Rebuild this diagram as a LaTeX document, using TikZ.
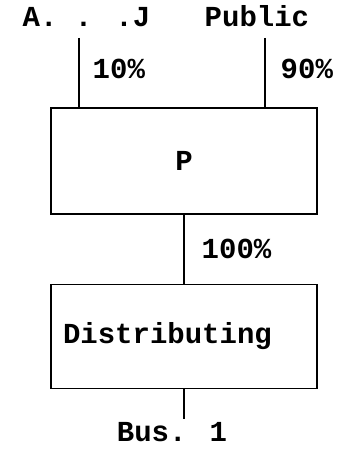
\documentclass[tikz,border=0pt]{standalone}
\usepackage{fontspec}
\setmainfont{Liberation Mono}
\definecolor{dgInk}{HTML}{000000}
\usetikzlibrary{positioning}

\begin{document}
\begin{tikzpicture}[line width=1.4pt,
                    font=\fontsize{29}{34}\selectfont\bfseries,
                    block/.style={draw=dgInk,inner sep=0pt,
                                  minimum width=266pt,minimum height=106pt},
                    tag/.style={inner sep=3pt,text=dgInk}]
  \useasboundingbox (0,0) rectangle (346pt,450pt);
  \node[block] (p) at (184pt,289pt) {P};
  \node[block,below=69pt of p,minimum height=104pt,
        text width=242pt,align=left] (dist) {Distributing};
  \node[tag,anchor=base west] (aj) at (19pt,423pt) {A. . .J};
  \node[tag,anchor=base west] (pub) at (201pt,423pt) {Public};
  \node[tag,below=30pt of dist,xshift=-12pt] (bus) {Bus. 1};
  % inlets on the top edge of P
  \coordinate (pin1) at ([xshift=-105pt]p.north);
  \coordinate (pin2) at ([xshift=81pt]p.north);
  \draw[dgInk,shorten <=7pt] (pin1 |- aj.south) -- node[tag,right=10pt] (l10) {10\%} (pin1);
  \draw[dgInk,shorten <=7pt] (pin2 |- pub.south) -- node[tag,right=12pt] (l90) {90\%} (pin2);
  \draw[dgInk] (p) -- node[tag,right=14pt] (l100) {100\%} (dist);
  \draw[dgInk] (dist.south) -- (dist.south |- bus.north);
\end{tikzpicture}
\end{document}
